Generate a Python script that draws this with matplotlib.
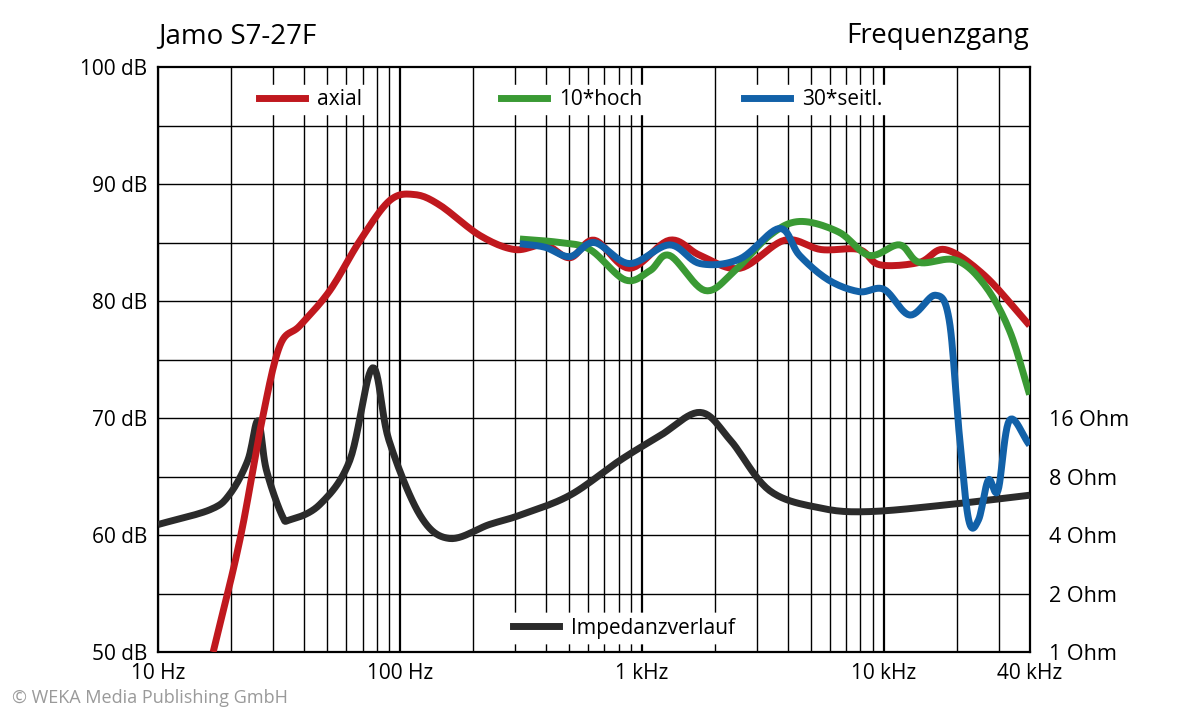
import numpy as np
import matplotlib
matplotlib.use("Agg")
import matplotlib.pyplot as plt
from matplotlib.lines import Line2D

plt.rcParams["font.family"] = "Open Sans"

red_f = [16.9, 21.8, 26.9, 31.9, 38.6, 51.3, 68.5, 90.8, 115, 146, 214, 298, 397, 504, 636, 888,
         1300, 1740, 2540, 3890, 5500, 7900, 9600, 14000, 17900, 26000, 40000]
red_db = [50, 59.6, 69.8, 76.2, 77.9, 80.9, 85.2, 88.6, 89.1, 88.2, 85.6, 84.4, 84.8, 83.7, 85.2, 82.8,
          85.2, 83.9, 82.8, 85.2, 84.4, 84.4, 83.1, 83.3, 84.4, 82.2, 77.9]
green_f = [313, 457, 610, 854, 1080, 1300, 1820, 2420, 3370, 4480, 6500, 8700, 11600, 14000, 19800,
           26000, 33000, 40000]
green_db = [85.3, 85.0, 84.4, 81.8, 82.6, 83.9, 80.9, 82.6, 85.6, 86.8, 85.9, 83.9, 84.8, 83.3, 83.5,
            81.4, 77.5, 72.0]
blue_f = [313, 397, 504, 636, 888, 1300, 1740, 2540, 3700, 4480, 5900, 7900, 10000, 12800, 16300,
          18600, 20400, 22400, 24600, 27000, 29600, 33000, 40000]
blue_db = [84.9, 84.6, 83.8, 85.0, 83.2, 84.8, 83.2, 83.6, 86.2, 83.9, 81.8, 80.8, 81.0, 78.8, 80.5,
           78.4, 69.0, 61.3, 61.3, 64.7, 63.8, 69.8, 67.7]
imp_f = [10, 16.4, 19.8, 23.5, 25.9, 28, 32.5, 35.1, 46.6, 62, 77, 90, 121, 160, 234, 313, 504, 810,
         1190, 1740, 2320, 3370, 5500, 8700, 18600, 40000]
imp_ohm = [4.53, 5.4, 6.5, 9.7, 15.5, 8.7, 5.06, 4.79, 5.74, 9.68, 29, 12.3, 5.06, 3.84, 4.53, 5.06,
           6.41, 9.68, 13, 17.1, 12.3, 6.77, 5.5, 5.28, 5.74, 6.41]

x_ticks = [10, 100, 1000, 10000, 40000]
x_labels = ["10 Hz", "100 Hz", "1 kHz", "10 kHz", "40 kHz"]
y_ticks = [50, 60, 70, 80, 90, 100]
ohm_ticks = [1, 2, 4, 8, 16]


def ohm_to_db(o):
    return 50 + 5 * np.log2(np.asarray(o, dtype=float))


def smooth(f, y, n=12):
    """Catmull-Rom drawing path through the given points (log-frequency)."""
    x = np.log10(np.asarray(f, float))
    y = np.asarray(y, float)
    px = np.concatenate([[2 * x[0] - x[1]], x, [2 * x[-1] - x[-2]]])
    py = np.concatenate([[2 * y[0] - y[1]], y, [2 * y[-1] - y[-2]]])
    xs, ys = [], []
    t = np.linspace(0, 1, n, endpoint=False)
    for i in range(1, len(px) - 2):
        for arr, out in ((px, xs), (py, ys)):
            p0, p1, p2, p3 = arr[i - 1:i + 3]
            out.extend(0.5 * ((2 * p1) + (-p0 + p2) * t + (2 * p0 - 5 * p1 + 4 * p2 - p3) * t ** 2
                              + (-p0 + 3 * p1 - 3 * p2 + p3) * t ** 3))
    xs.append(x[-1]); ys.append(y[-1])
    return 10 ** np.array(xs), np.array(ys)


fig = plt.figure(figsize=(12, 7.2), dpi=100)
ax = fig.add_axes([0.1317, 0.0944, 0.7263, 0.8125])
ax.set_xscale("log")
ax.set_xlim(10, 40000)
ax.set_ylim(50, 100)

minor = []
for dec in [10, 100, 1000, 10000]:
    for m in range(1, 10):
        v = dec * m
        if v <= 40000:
            minor.append(v)
for v in minor:
    lw = 1.6 if v in (10, 100, 1000, 10000) else 1.0
    ax.axvline(v, color="black", lw=lw, zorder=1)
for y in np.arange(55, 100, 5):
    ax.axhline(y, color="black", lw=1.0, zorder=1)
for s in ax.spines.values():
    s.set_linewidth(1.6)

kw = dict(lw=5, solid_capstyle="butt", solid_joinstyle="round", zorder=3)
ax.plot(*smooth(imp_f, ohm_to_db(imp_ohm)), color="#2b2b2b", **kw)
ax.plot(*smooth(red_f, red_db), color="#c0181e", **kw)
ax.plot(*smooth(green_f, green_db), color="#3a9a34", **kw)
ax.plot(*smooth(blue_f, blue_db), color="#1261a8", **kw)

ax.set_xticks(x_ticks)
ax.set_xticklabels(x_labels)
ax.xaxis.set_minor_locator(matplotlib.ticker.NullLocator())
ax.set_yticks(y_ticks)
ax.set_yticklabels([f"{v} dB" for v in y_ticks])
ax.tick_params(length=0, labelsize=15, pad=8)

ax2 = ax.twinx()
ax2.set_ylim(50, 100)
ax2.set_yticks(ohm_to_db(ohm_ticks))
ax2.set_yticklabels([f"{o} Ohm" for o in ohm_ticks])
ax2.tick_params(length=0, labelsize=15.5, pad=14)
for s in ax2.spines.values():
    s.set_visible(False)


def leg(label, color, x, y):
    h = [Line2D([], [], color=color, lw=5)]
    lg = ax.legend(h, [label], loc="center", bbox_to_anchor=(x, y), frameon=True,
                   fontsize=15, handlelength=2.2, handletextpad=0.6, borderpad=0.2,
                   fancybox=False, framealpha=1, edgecolor="white")
    lg.set_zorder(5)
    ax.add_artist(lg)


leg("axial", "#c0181e", 0.175, 0.944)
leg("10*hoch", "#3a9a34", 0.475, 0.944)
leg("30*seitl.", "#1261a8", 0.752, 0.944)
leg("Impedanzverlauf", "#2b2b2b", 0.535, 0.041)

fig.text(0.1317, 0.93, "Jamo S7-27F", fontsize=20, ha="left", va="bottom")
fig.text(0.858, 0.93, "Frequenzgang", fontsize=20, ha="right", va="bottom")
fig.text(0.01, 0.03, "© WEKA Media Publishing GmbH", fontsize=13, color="#9a9a9a",
         ha="left", va="center")

fig.savefig("out.png", dpi=100)
